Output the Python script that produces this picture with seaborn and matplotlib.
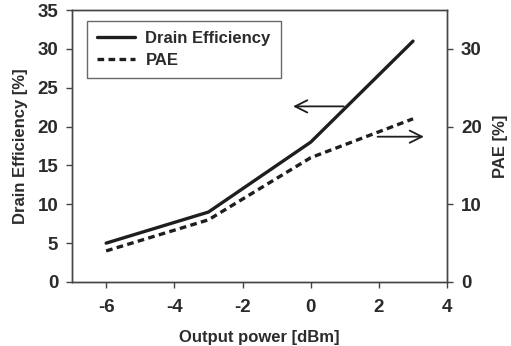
import matplotlib
matplotlib.use("Agg")
import matplotlib.pyplot as plt
import pandas as pd
import seaborn as sns

# data
output_power = [-6, -3, 0, 3]
drain_eff = [5, 9, 18, 31]
pae = [4, 8, 16, 21]

left_ticks = [0, 5, 10, 15, 20, 25, 30, 35]
right_ticks = [0, 10, 20, 30]
x_ticks = [-6, -4, -2, 0, 2, 4]

sns.set_style("ticks")
plt.rcParams["font.family"] = ["Liberation Sans", "DejaVu Sans"]
plt.rcParams["font.weight"] = "bold"
plt.rcParams["axes.unicode_minus"] = False

text_col = "#2b2b2b"
line_col = "#1e1e1e"

df = pd.DataFrame({"power": output_power, "drain": drain_eff, "pae": pae})

fig = plt.figure(figsize=(5.11, 3.46), dpi=100)
ax = fig.add_axes([0.141, 0.185, 0.734, 0.786])
ax2 = ax.twinx()

sns.lineplot(data=df, x="power", y="drain", ax=ax, color=line_col, lw=2.4,
             label="Drain Efficiency", legend=False)
sns.lineplot(data=df, x="power", y="pae", ax=ax2, color=line_col, lw=2.4,
             linestyle=(0, (2.0, 1.3)), label="PAE", legend=False)

for a in (ax, ax2):
    a.set_xlim(-7, 4)
    a.set_ylim(0, 35)
    for s in a.spines.values():
        s.set_color("#444444")
        s.set_linewidth(1.0)
    a.tick_params(colors="#444444", labelcolor=text_col, labelsize=13.5,
                  length=4, width=1.0, pad=6)
ax.tick_params(axis="x", pad=8)

ax.set_xticks(x_ticks)
ax.set_yticks(left_ticks)
ax2.set_yticks(right_ticks)

ax.set_xlabel("Output power [dBm]", fontsize=12, fontweight="bold", color=text_col, labelpad=10)
ax.set_ylabel("Drain Efficiency [%]", fontsize=12, fontweight="bold", color=text_col, labelpad=7)
ax2.set_ylabel("PAE [%]", fontsize=12, fontweight="bold", color=text_col, labelpad=8)

# pointer arrows
ax.annotate("", xy=(-0.6, 22.6), xytext=(1.05, 22.6),
            arrowprops=dict(arrowstyle="->", color=line_col, lw=1.3,
                            mutation_scale=22))
ax2.annotate("", xy=(3.4, 18.7), xytext=(1.88, 18.7),
             arrowprops=dict(arrowstyle="->", color=line_col, lw=1.3,
                             mutation_scale=22))

h1, l1 = ax.get_legend_handles_labels()
h2, l2 = ax2.get_legend_handles_labels()
leg = ax2.legend(h1 + h2, l1 + l2, loc="upper left", bbox_to_anchor=(0.04, 0.96),
                 borderaxespad=0, fancybox=False, frameon=True, edgecolor="#444444",
                 prop={"size": 12, "weight": "bold"}, handlelength=2.3,
                 borderpad=0.6, labelspacing=0.4, handletextpad=0.6)
for t in leg.get_texts():
    t.set_color(text_col)
leg.get_frame().set_linewidth(1.0)

fig.savefig("out.png", dpi=100)
